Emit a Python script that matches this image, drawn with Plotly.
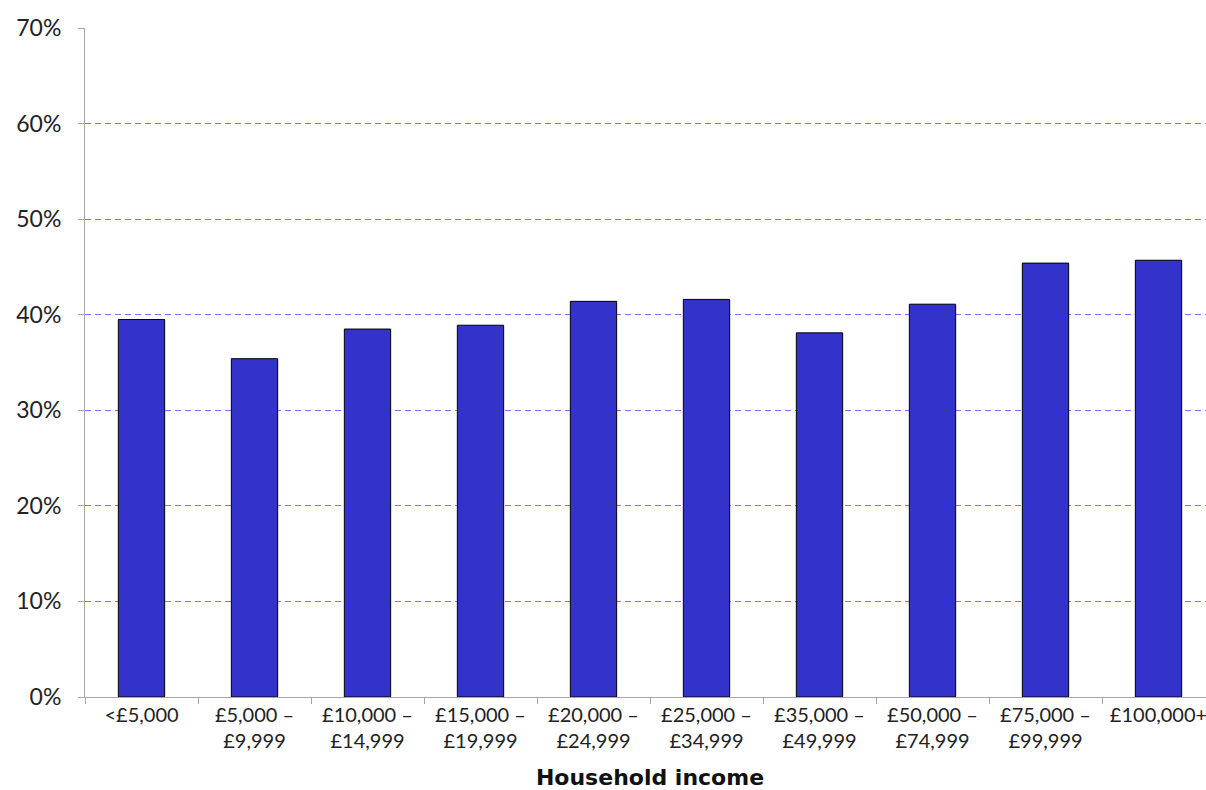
import plotly.graph_objects as go

categories = ['<£5,000', '£5,000 –<br>£9,999', '£10,000 –<br>£14,999', '£15,000 –<br>£19,999',
              '£20,000 –<br>£24,999', '£25,000 –<br>£34,999', '£35,000 –<br>£49,999',
              '£50,000 –<br>£74,999', '£75,000 –<br>£99,999', '£100,000+']
values = [0.395, 0.354, 0.385, 0.389, 0.414, 0.416, 0.381, 0.411, 0.454, 0.457]
y_ticks = [0, 0.1, 0.2, 0.3, 0.4, 0.5, 0.6, 0.7]

font = 'Lato, Noto Sans, sans-serif'

fig = go.Figure()
fig.add_trace(go.Bar(
    x=categories,
    y=values,
    marker=dict(color='#3333cc', line=dict(color='black', width=1)),
    width=0.41,
))

# plot area runs slightly past the right edge of the window, like the original
fig.update_layout(
    width=1218, height=790,
    margin=dict(l=85, r=3, t=28, b=93),
    plot_bgcolor='white', paper_bgcolor='white',
    font=dict(family=font, size=20, color='#222'),
    showlegend=False,
)
fig.update_xaxes(
    automargin=False,
    showline=True, linecolor='#a6a6a6', linewidth=1,
    ticks='outside', tickson='boundaries', ticklen=6, tickcolor='#a6a6a6',
    tickfont=dict(size=20),
    title=dict(text='<b>Household income</b>',
               font=dict(size=22, family='DejaVu Sans, sans-serif', color='#111'), standoff=27),
    showgrid=False,
)
fig.update_yaxes(
    automargin=False,
    range=[0, 0.7], tickvals=y_ticks, tickformat='.0%',
    showline=True, linecolor='#a6a6a6', linewidth=1,
    ticks='outside', ticklen=6, tickcolor='#a6a6a6', ticklabelstandoff=12,
    tickfont=dict(size=23),
    showgrid=True, gridcolor='#9966ff', griddash='6px,4px', gridwidth=1,
    zeroline=False,
)

fig.write_html("out.html", config={'displayModeBar': False},
               post_script="document.body.style.margin='0';document.body.style.overflow='hidden';")
